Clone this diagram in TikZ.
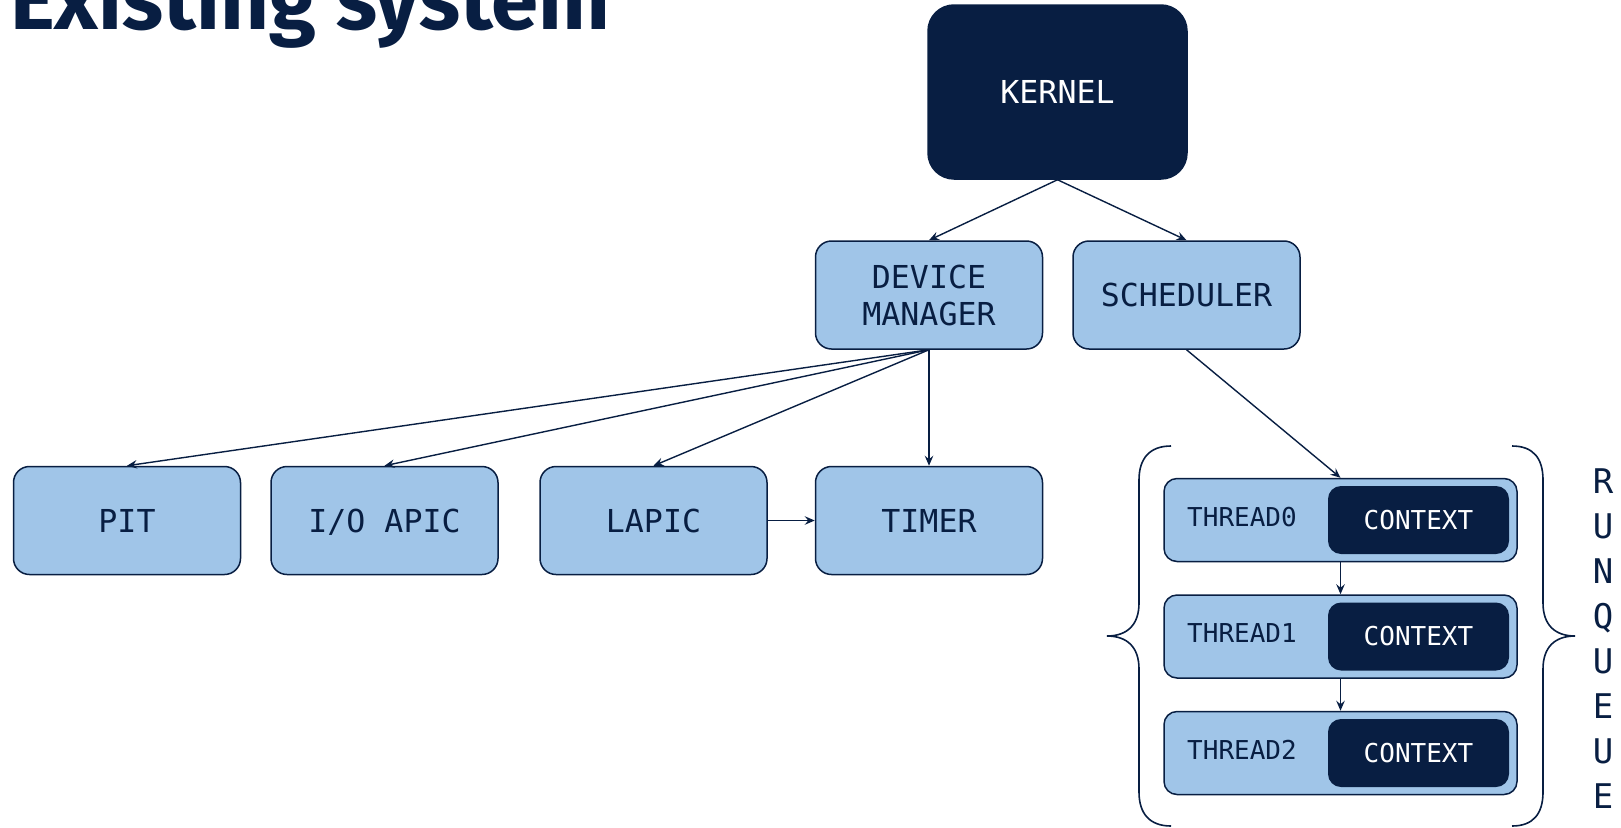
\documentclass[tikz,border=0pt]{standalone}
\usepackage{fontspec}
\setmainfont{Fira Sans}
\setmonofont{DejaVu Sans Mono}
\usetikzlibrary{arrows.meta}
\definecolor{navy}{RGB}{8,30,66}
\definecolor{lblue}{RGB}{160,197,232}
\tikzset{
  box/.style={draw=navy, fill=lblue, line width=1.5pt, rounded corners=16pt,
    font=\ttfamily\fontsize{31.6}{37}\selectfont, text=navy, align=center,
    inner sep=0pt, text depth=0pt, minimum width=227pt, minimum height=108pt},
  darkbox/.style={draw=navy, fill=navy, line width=1.5pt, text=white,
    font=\ttfamily\fontsize{31.6}{37}\selectfont, inner sep=0pt},
  thr/.style={draw=navy, fill=lblue, line width=1.5pt, rounded corners=13pt,
    minimum width=353pt, minimum height=83pt, inner sep=0pt},
  ctx/.style={fill=navy, rounded corners=13pt, minimum width=181pt, minimum height=68pt,
    inner sep=0pt, text=white, font=\ttfamily\fontsize{26}{30}\selectfont},
  tlabel/.style={anchor=west, inner sep=0pt, text=navy, font=\ttfamily\fontsize{26}{30}\selectfont},
  rq/.style={inner sep=0pt, text=navy, font=\ttfamily\fontsize{34}{40}\selectfont},
  arr/.style={draw=navy, line width=1.4pt, -{Stealth[length=10pt,width=8.5pt,inset=3.5pt]}},
  brace/.style={draw=navy, line width=1.6pt}
}
\begin{document}
\begin{tikzpicture}[x=1pt,y=-1pt]
\useasboundingbox (0,0) rectangle (1621,827);
% title
\node[anchor=base west, inner sep=0pt, text=navy, font=\bfseries\fontsize{85}{85}\selectfont] (title) at (10,29) {Existing system};
% kernel
\node[darkbox, rounded corners=26pt, minimum width=259pt, minimum height=174pt] (kernel) at (1057.5,92) {KERNEL};
% second level
\node[box] (dm) at (929,295) {DEVICE\\MANAGER};
\node[box] (sched) at (1186.5,295) {SCHEDULER};
% bottom row
\node[box] (pit) at (127,520.5) {PIT};
\node[box] (ioapic) at (384.5,520.5) {I/O APIC};
\node[box] (lapic) at (653.5,520.5) {LAPIC};
\node[box] (timer) at (929,520.5) {TIMER};
% threads
\foreach \i/\y in {0/520,1/636.5,2/753}{
  \node[thr] (t\i) at (1340.5,\y) {};
  \node[tlabel] (tl\i) at (1187,\y-3) {THREAD\i};
  \node[ctx] (c\i) at (1418.5,\y) {CONTEXT};
}
% braces
\coordinate (lbt) at (1171,446);
\coordinate (lbb) at (1171,826);
\coordinate (lbm) at (1107,636);
\draw[brace] (lbt) .. controls (1150,446) and (1139,458) .. (1139,480) -- (1139,603)
  .. controls (1139,625) and (1127,636) .. (lbm)
  .. controls (1127,636) and (1139,647) .. (1139,669) -- (1139,792)
  .. controls (1139,814) and (1150,826) .. (lbb);
\coordinate (rbt) at (1512,446);
\coordinate (rbb) at (1512,826);
\coordinate (rbm) at (1575,636);
\draw[brace] (rbt) .. controls (1533,446) and (1543,458) .. (1543,480) -- (1543,603)
  .. controls (1543,625) and (1555,636) .. (rbm)
  .. controls (1555,636) and (1543,647) .. (1543,669) -- (1543,792)
  .. controls (1543,814) and (1533,826) .. (rbb);
% runqueue label
\foreach \l [count=\i from 0] in {R,U,N,Q,U,E,U,E}{
  \node[rq, anchor=base] (rq\i) at (1603,493+45*\i) {\l};
}
% connectors
\draw[arr] (kernel.south) -- (dm.north);
\draw[arr] (kernel.south) -- (sched.north);
\draw[arr] (dm.south) -- (pit.north);
\draw[arr] (dm.south) -- (ioapic.north);
\draw[arr] (dm.south) -- (lapic.north);
\draw[arr] (dm.south) -- (timer.north);
\draw[arr] (lapic.east) -- (timer.west);
\draw[arr] (sched.south) -- (t0.north);
\draw[arr] (t0.south) -- (t1.north);
\draw[arr] (t1.south) -- (t2.north);
\end{tikzpicture}
\end{document}
